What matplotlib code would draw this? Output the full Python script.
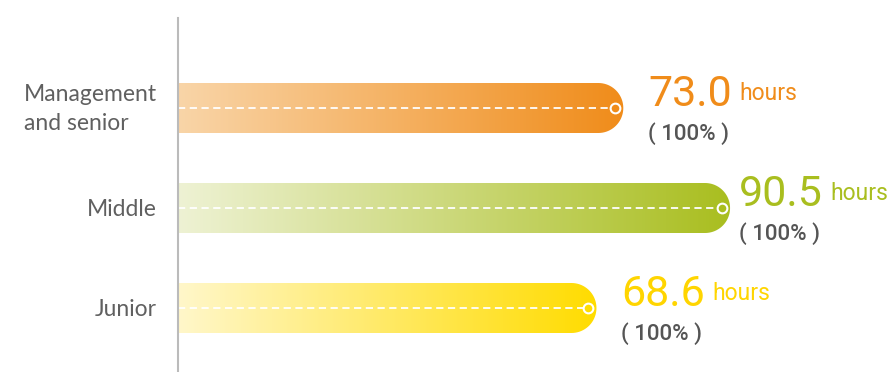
import numpy as np
import matplotlib.pyplot as plt
from matplotlib.path import Path
from matplotlib.patches import PathPatch
from matplotlib.colors import LinearSegmentedColormap

categories = ["Management\nand senior", "Middle", "Junior"]
hours = [73.0, 90.5, 68.6]
shares = ["100%", "100%", "100%"]
start_colors = ["#F9D5A8", "#EEF2D4", "#FFF7CA"]
end_colors = ["#F08C1A", "#A9BE1F", "#FFDC00"]
text_colors = ["#F08C1A", "#A9BE1F", "#FFD500"]

W, H = 893, 372
px_per_hour = 6.1
x0_px = 178
fig = plt.figure(figsize=(W / 100, H / 100), dpi=100)
ax = fig.add_axes([0, 0, 1, 1])
ax.set_xlim(-x0_px / px_per_hour, (W - x0_px) / px_per_hour)
ax.set_ylim(2.64, -1.08)
ax.axis("off")

bar_h = 0.5
rx = 25 / px_per_hour  # radius of the rounded end, in hours
ry = bar_h / 2
inv = ax.transData.inverted()

for i, (cat, val) in enumerate(zip(categories, hours)):
    y = i
    # bar outline with rounded right end
    t = np.linspace(np.pi / 2, -np.pi / 2, 40)
    cx = val - rx
    arc_pts = np.column_stack([cx + rx * np.cos(t), y - ry * np.sin(t)])
    verts = np.vstack([[0, y - ry], arc_pts, [0, y + ry], [0, y - ry]])
    codes = [Path.MOVETO] + [Path.LINETO] * (len(verts) - 2) + [Path.CLOSEPOLY]
    patch = PathPatch(Path(verts, codes), facecolor="none", edgecolor="none")
    ax.add_patch(patch)
    cmap = LinearSegmentedColormap.from_list("g%d" % i, [start_colors[i], end_colors[i]])
    grad = np.linspace(0, 1, 256).reshape(1, -1)
    im = ax.imshow(grad, cmap=cmap, aspect="auto", extent=(0, val, y + ry, y - ry),
                   interpolation="bilinear", zorder=1)
    im.set_clip_path(patch)

    # dashed line with end marker
    mx = val - 8 / px_per_hour
    ax.plot([0, mx], [y, y], color="white", lw=1.3, ls=(0, (4, 2.5)), zorder=2)
    ax.plot([mx], [y], marker="o", ms=7, mfc=end_colors[i], mec="white", mew=1.5, zorder=3)

    # category label
    ax.text(-21 / px_per_hour, y + 0.01, cat, ha="right", va="center",
            multialignment="left", fontsize=16.5, color="#606060", family="Lato",
            linespacing=1.45)

    # value text, kept inside the canvas
    tx = val + 25 / px_per_hour
    vt = ax.text(tx, y - 0.02, "%.1f" % val, ha="left", va="baseline", fontsize=31,
                 color=text_colors[i], family="Roboto")
    ht = ax.text(tx, y - 0.08, "hours", ha="left", va="baseline", fontsize=16.5,
                 color=text_colors[i], family="Roboto")
    st = ax.text(tx, y + 0.26, "( %s )" % shares[i], ha="left", va="center", fontsize=16,
                 color="#555555", family="Roboto", fontweight="medium")
    fig.canvas.draw()
    bb = vt.get_window_extent()
    hx_px = bb.x1 + 7
    hw = ht.get_window_extent().width
    shift = max(0, hx_px + hw - (W - 5))
    vx = inv.transform((bb.x0 - shift, 0))[0]
    vt.set_x(vx)
    st.set_x(vx)
    ht.set_x(inv.transform((hx_px - shift, 0))[0])

# vertical axis line
ax.plot([0, 0], [-0.9, 2.64], color="#BBBBBB", lw=1.5, zorder=4)

fig.savefig("out.png", dpi=100)
